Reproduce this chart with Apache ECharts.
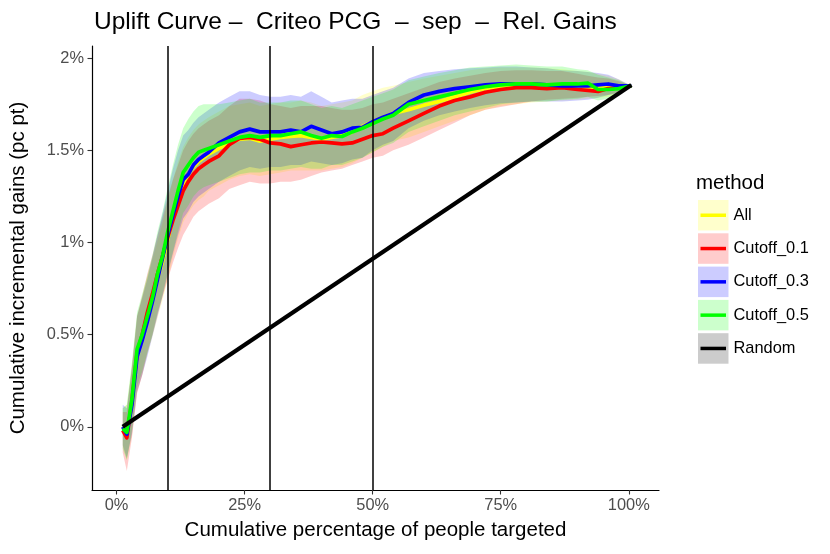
<!DOCTYPE html>
<html>
<head>
<meta charset="utf-8">
<script src="https://cdn.jsdelivr.net/npm/echarts@6/dist/echarts.min.js"></script>
<style>
  html, body { margin: 0; padding: 0; background: #fff; }
  #chart { width: 830px; height: 554px; }
</style>
</head>
<body>
<div id="chart"></div>
<script>
// cumulative percentage of people targeted (x grid shared by all methods)
const X_PCT = [1.2, 2, 3, 4, 5, 6, 7, 8, 9, 10,
  11, 12, 13, 14, 15, 16, 17, 18, 20, 22,
  24, 26, 28, 30, 32, 34, 36, 38, 40, 42,
  44, 46, 48, 50, 52, 54, 57, 60, 63, 66,
  69, 72, 75, 78, 81, 84, 87, 90, 92, 94,
  96, 98, 100.5];

// method "All"
const ALL_Y = [0.00, -0.04, 0.13, 0.39, 0.49, 0.60, 0.70, 0.80, 0.90, 1.02,
  1.13, 1.23, 1.32, 1.37, 1.41, 1.44, 1.46, 1.48, 1.51, 1.54,
  1.56, 1.565, 1.55, 1.56, 1.57, 1.575, 1.58, 1.57, 1.56, 1.57,
  1.58, 1.60, 1.63, 1.655, 1.68, 1.70, 1.72, 1.745, 1.765, 1.79,
  1.815, 1.835, 1.845, 1.85, 1.855, 1.85, 1.85, 1.845, 1.84, 1.84,
  1.84, 1.84, 1.85];
const ALL_LO = [-0.10, -0.18, -0.05, 0.19, 0.28, 0.39, 0.49, 0.59, 0.69, 0.80,
  0.92, 1.02, 1.11, 1.16, 1.20, 1.23, 1.25, 1.28, 1.31, 1.34,
  1.36, 1.37, 1.36, 1.37, 1.38, 1.39, 1.39, 1.39, 1.39, 1.40,
  1.41, 1.43, 1.46, 1.49, 1.52, 1.55, 1.57, 1.60, 1.63, 1.66,
  1.69, 1.72, 1.74, 1.75, 1.76, 1.765, 1.77, 1.775, 1.78, 1.785,
  1.79, 1.80, 1.85];
const ALL_HI = [0.10, 0.12, 0.33, 0.60, 0.70, 0.81, 0.91, 1.01, 1.11, 1.23,
  1.34, 1.44, 1.52, 1.57, 1.61, 1.64, 1.66, 1.68, 1.71, 1.74,
  1.75, 1.76, 1.74, 1.75, 1.76, 1.76, 1.77, 1.76, 1.74, 1.75,
  1.76, 1.77, 1.80, 1.82, 1.84, 1.85, 1.87, 1.89, 1.905, 1.92,
  1.935, 1.945, 1.95, 1.95, 1.95, 1.945, 1.94, 1.93, 1.925, 1.915,
  1.905, 1.885, 1.85];

// method "Cutoff_0.1"
const C01_Y = [-0.02, -0.06, 0.14, 0.40, 0.50, 0.62, 0.72, 0.83, 0.93, 1.03,
  1.12, 1.20, 1.28, 1.33, 1.37, 1.40, 1.42, 1.44, 1.47, 1.53,
  1.565, 1.57, 1.56, 1.54, 1.535, 1.52, 1.53, 1.54, 1.545, 1.54,
  1.535, 1.54, 1.56, 1.58, 1.59, 1.62, 1.66, 1.70, 1.74, 1.77,
  1.79, 1.815, 1.83, 1.84, 1.84, 1.835, 1.84, 1.83, 1.825, 1.82,
  1.835, 1.84, 1.85];
const C01_LO = [-0.14, -0.24, -0.06, 0.18, 0.28, 0.40, 0.50, 0.61, 0.71, 0.80,
  0.89, 0.97, 1.04, 1.09, 1.14, 1.17, 1.19, 1.21, 1.24, 1.29,
  1.31, 1.33, 1.32, 1.32, 1.33, 1.33, 1.34, 1.36, 1.38, 1.39,
  1.40, 1.42, 1.44, 1.46, 1.47, 1.50, 1.53, 1.57, 1.61, 1.65,
  1.69, 1.72, 1.735, 1.75, 1.765, 1.775, 1.78, 1.785, 1.79, 1.795,
  1.80, 1.815, 1.85];
const C01_HI = [0.08, 0.08, 0.33, 0.60, 0.71, 0.83, 0.93, 1.04, 1.14, 1.25,
  1.34, 1.42, 1.50, 1.55, 1.59, 1.62, 1.64, 1.66, 1.69, 1.74,
  1.78, 1.78, 1.77, 1.75, 1.74, 1.73, 1.74, 1.74, 1.74, 1.73,
  1.72, 1.72, 1.73, 1.75, 1.76, 1.78, 1.81, 1.84, 1.87, 1.89,
  1.905, 1.92, 1.93, 1.935, 1.935, 1.93, 1.93, 1.915, 1.905, 1.895,
  1.89, 1.875, 1.85];

// method "Cutoff_0.3"
const C03_Y = [0.00, -0.04, 0.12, 0.38, 0.47, 0.57, 0.68, 0.80, 0.92, 1.04,
  1.15, 1.25, 1.34, 1.37, 1.42, 1.45, 1.47, 1.49, 1.54, 1.57,
  1.60, 1.615, 1.60, 1.60, 1.60, 1.61, 1.60, 1.63, 1.61, 1.59,
  1.60, 1.62, 1.625, 1.655, 1.68, 1.70, 1.76, 1.80, 1.82, 1.835,
  1.845, 1.855, 1.86, 1.86, 1.86, 1.855, 1.85, 1.85, 1.85, 1.855,
  1.86, 1.85, 1.85];
const C03_LO = [-0.10, -0.17, -0.04, 0.19, 0.28, 0.38, 0.49, 0.60, 0.71, 0.83,
  0.94, 1.04, 1.13, 1.17, 1.22, 1.25, 1.27, 1.29, 1.33, 1.36,
  1.39, 1.41, 1.40, 1.41, 1.41, 1.42, 1.42, 1.44, 1.43, 1.42,
  1.43, 1.45, 1.46, 1.50, 1.53, 1.55, 1.62, 1.66, 1.69, 1.71,
  1.73, 1.745, 1.755, 1.76, 1.765, 1.765, 1.765, 1.77, 1.775, 1.785,
  1.80, 1.81, 1.85];
const C03_HI = [0.12, 0.10, 0.32, 0.60, 0.70, 0.80, 0.92, 1.04, 1.16, 1.28,
  1.40, 1.50, 1.58, 1.61, 1.65, 1.68, 1.70, 1.72, 1.76, 1.79,
  1.82, 1.82, 1.80, 1.79, 1.79, 1.80, 1.79, 1.82, 1.79, 1.76,
  1.77, 1.78, 1.78, 1.80, 1.82, 1.84, 1.89, 1.92, 1.93, 1.94,
  1.945, 1.95, 1.955, 1.955, 1.95, 1.945, 1.935, 1.93, 1.925, 1.92,
  1.91, 1.885, 1.85];

// method "Cutoff_0.5"
const C05_Y = [-0.01, -0.03, 0.15, 0.42, 0.50, 0.60, 0.70, 0.83, 0.93, 1.06,
  1.17, 1.28, 1.38, 1.42, 1.46, 1.49, 1.50, 1.51, 1.53, 1.55,
  1.57, 1.58, 1.57, 1.58, 1.58, 1.59, 1.60, 1.58, 1.565, 1.58,
  1.575, 1.60, 1.62, 1.645, 1.67, 1.69, 1.75, 1.77, 1.79, 1.81,
  1.83, 1.845, 1.855, 1.86, 1.86, 1.855, 1.86, 1.86, 1.865, 1.83,
  1.83, 1.835, 1.85];
const C05_LO = [-0.12, -0.18, -0.02, 0.22, 0.30, 0.40, 0.50, 0.62, 0.72, 0.84,
  0.95, 1.06, 1.16, 1.20, 1.25, 1.28, 1.30, 1.31, 1.33, 1.35,
  1.37, 1.38, 1.38, 1.39, 1.39, 1.40, 1.41, 1.40, 1.40, 1.42,
  1.42, 1.44, 1.46, 1.49, 1.52, 1.54, 1.60, 1.63, 1.66, 1.69,
  1.71, 1.73, 1.75, 1.76, 1.765, 1.765, 1.775, 1.78, 1.79, 1.77,
  1.78, 1.80, 1.85];
const C05_HI = [0.10, 0.12, 0.35, 0.62, 0.72, 0.82, 0.93, 1.06, 1.17, 1.30,
  1.42, 1.53, 1.62, 1.67, 1.71, 1.74, 1.75, 1.75, 1.75, 1.76,
  1.77, 1.78, 1.76, 1.76, 1.76, 1.77, 1.77, 1.75, 1.73, 1.74,
  1.73, 1.75, 1.77, 1.79, 1.81, 1.83, 1.88, 1.90, 1.92, 1.935,
  1.95, 1.955, 1.96, 1.965, 1.96, 1.955, 1.955, 1.94, 1.935, 1.91,
  1.895, 1.88, 1.85];

// random targeting baseline
const RANDOM_X = [1.2, 100.5];
const RANDOM_Y = [0, 1.854];

const VLINES = [10, 30, 50];
const X_TICKS = [0, 25, 50, 75, 100];
const Y_TICKS = [0, 0.5, 1, 1.5, 2];

const METHODS = [
  { name: 'All', y: ALL_Y, lo: ALL_LO, hi: ALL_HI, line: '#FFFF00', fill: 'rgba(255,255,0,0.2)', key: '#FFFFCC' },
  { name: 'Cutoff_0.1', y: C01_Y, lo: C01_LO, hi: C01_HI, line: '#FF0000', fill: 'rgba(255,0,0,0.2)', key: '#FFCCCC' },
  { name: 'Cutoff_0.3', y: C03_Y, lo: C03_LO, hi: C03_HI, line: '#0000FF', fill: 'rgba(0,0,255,0.2)', key: '#CCCCFF' },
  { name: 'Cutoff_0.5', y: C05_Y, lo: C05_LO, hi: C05_HI, line: '#00FF00', fill: 'rgba(0,255,0,0.2)', key: '#CCFFCC' },
];

const FONT = 'Liberation Sans, Arial, Helvetica, sans-serif';

const bandSeries = (m) => ({
  type: 'custom',
  name: m.name,
  z: 1,
  silent: true,
  clip: true,
  data: X_PCT.map((x, i) => [x, m.lo[i], m.hi[i]]),
  encode: { x: 0, y: [1, 2] },
  renderItem: (params, api) => {
    if (params.dataIndex !== 0) return null;
    const pts = [];
    for (let i = 0; i < X_PCT.length; i++) pts.push(api.coord([X_PCT[i], m.hi[i]]));
    for (let i = X_PCT.length - 1; i >= 0; i--) pts.push(api.coord([X_PCT[i], m.lo[i]]));
    return { type: 'polygon', shape: { points: pts }, style: { fill: m.fill } };
  },
});

const lineSeries = (m) => ({
  type: 'line',
  name: m.name,
  z: 2,
  showSymbol: false,
  symbol: 'none',
  data: X_PCT.map((x, i) => [x, m.y[i]]),
  lineStyle: { color: m.line, width: 3.7, join: 'round' },
  itemStyle: { color: m.line },
});

const series = [
  ...METHODS.map(bandSeries),
  ...METHODS.map(lineSeries),
  {
    type: 'line',
    name: 'Random',
    z: 3,
    showSymbol: false,
    symbol: 'none',
    data: RANDOM_X.map((x, i) => [x, RANDOM_Y[i]]),
    lineStyle: { color: '#000', width: 4.2 },
    itemStyle: { color: '#000' },
    markLine: {
      silent: true,
      symbol: 'none',
      label: { show: false },
      lineStyle: { color: '#000', width: 1.5, type: 'solid' },
      data: VLINES.map((v) => ({ xAxis: v })),
    },
  },
];

const legendNames = [...METHODS.map((m) => m.name), 'Random'];
const keyFills = [...METHODS.map((m) => m.key), '#CCCCCC'];
const keyLines = [...METHODS.map((m) => m.line), '#000000'];

const chart = echarts.init(document.getElementById('chart'));
chart.setOption({
  animation: false,
  backgroundColor: '#fff',
  textStyle: { fontFamily: FONT },
  title: [
    {
      text: 'Uplift Curve –  Criteo PCG  –  sep  –  Rel. Gains',
      left: 89,
      top: 5,
      textStyle: { fontFamily: FONT, fontSize: 24.5, fontWeight: 'normal', color: '#000' },
    },
    {
      text: 'method',
      left: 691,
      top: 168,
      textStyle: { fontFamily: FONT, fontSize: 20.5, fontWeight: 'normal', color: '#000' },
    },
  ],
  legend: [
    {
      orient: 'vertical',
      left: 693,
      top: 195,
      itemWidth: 30.5,
      itemHeight: 30.5,
      itemGap: 2.8,
      selectedMode: false,
      textStyle: { fontFamily: FONT, fontSize: 16.4, color: '#000' },
      data: legendNames.map((n, i) => ({
        name: n,
        icon: 'rect',
        itemStyle: { color: keyFills[i], borderWidth: 0 },
      })),
    },
    {
      orient: 'vertical',
      left: 695.5,
      top: 195,
      itemWidth: 25.5,
      itemHeight: 3.5,
      itemGap: 2.8,
      selectedMode: false,
      textStyle: { fontFamily: FONT, fontSize: 16.4, lineHeight: 30.5, color: 'rgba(0,0,0,0)' },
      data: legendNames.map((n, i) => ({
        name: n,
        icon: 'rect',
        itemStyle: { color: keyLines[i], borderWidth: 0 },
      })),
    },
  ],
  grid: { left: 91, top: 46, width: 568, height: 444 },
  xAxis: {
    type: 'value',
    min: -4.8,
    max: 105.9,
    name: 'Cumulative percentage of people targeted',
    nameLocation: 'middle',
    nameGap: 30,
    nameTextStyle: { fontFamily: FONT, fontSize: 20.5, color: '#000' },
    splitLine: { show: false },
    axisLine: { onZero: false, lineStyle: { color: '#000', width: 1.2 } },
    axisTick: { customValues: X_TICKS, length: 4.5, lineStyle: { color: '#333', width: 1.1 } },
    axisLabel: {
      customValues: X_TICKS,
      margin: 7,
      fontFamily: FONT,
      fontSize: 16.4,
      color: '#4D4D4D',
      formatter: (v) => v + '%',
    },
  },
  yAxis: {
    type: 'value',
    min: -0.343,
    max: 2.066,
    name: 'Cumulative incremental gains (pc pt)',
    nameLocation: 'middle',
    nameGap: 63,
    nameTextStyle: { fontFamily: FONT, fontSize: 20.5, color: '#000' },
    splitLine: { show: false },
    axisLine: { onZero: false, lineStyle: { color: '#000', width: 1.2 } },
    axisTick: { customValues: Y_TICKS, length: 4.5, lineStyle: { color: '#333', width: 1.1 } },
    axisLabel: {
      customValues: Y_TICKS,
      margin: 8,
      fontFamily: FONT,
      fontSize: 16.4,
      color: '#4D4D4D',
      formatter: (v) => v + '%',
    },
  },
  series,
});
</script>
</body>
</html>
